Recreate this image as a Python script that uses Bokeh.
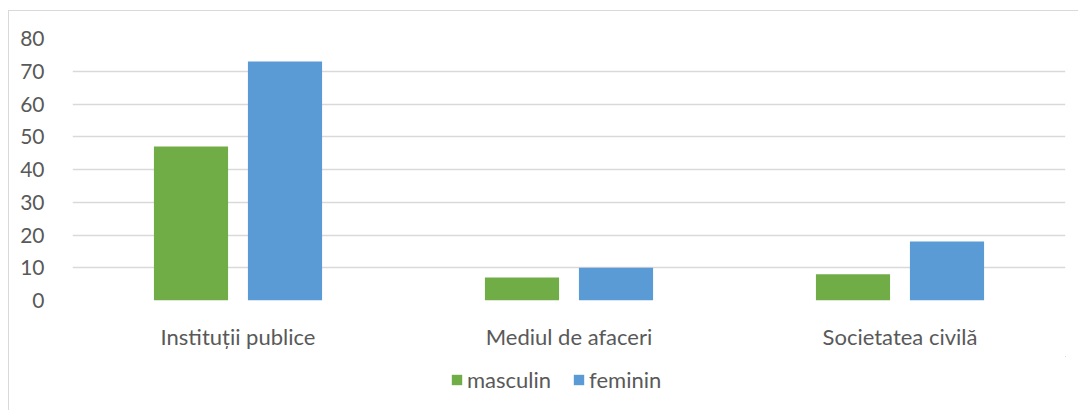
from bokeh.plotting import figure
from bokeh.layouts import column
from bokeh.models import ColumnDataSource, FactorRange, Legend, LegendItem, Range1d, FixedTicker
from bokeh.transform import dodge
from bokeh.embed import file_html
from bokeh.resources import INLINE

categories = ["Instituții publice", "Mediul de afaceri", "Societatea civilă"]
masculin = [47, 7, 8]
feminin = [73, 10, 18]
y_ticks = [0, 10, 20, 30, 40, 50, 60, 70, 80]
series_names = ["masculin", "feminin"]
series_colors = ["#70AD47", "#5B9BD5"]

src = ColumnDataSource(dict(cat=categories, masculin=masculin, feminin=feminin))

FONT = "Lato"
TXT = "#595959"

p = figure(x_range=FactorRange(*categories), y_range=Range1d(0, 80),
           width=1070, height=345, output_backend="svg", toolbar_location=None,
           min_border_left=63, min_border_right=14, min_border_top=27, min_border_bottom=56)
p.outline_line_color = None
p.x_range.range_padding = 0
p.x_range.factor_padding = 0

r1 = p.vbar(x=dodge("cat", -0.142, range=p.x_range), top="masculin", width=0.224, source=src,
            fill_color=series_colors[0], line_color=None)
r2 = p.vbar(x=dodge("cat", 0.142, range=p.x_range), top="feminin", width=0.224, source=src,
            fill_color=series_colors[1], line_color=None)

p.yaxis.ticker = FixedTicker(ticks=y_ticks)
p.yaxis.axis_line_color = None
p.yaxis.major_tick_line_color = None
p.yaxis.minor_tick_line_color = None
p.yaxis.major_label_standoff = 22
p.yaxis.major_label_text_font = FONT
p.yaxis.major_label_text_font_size = "21px"
p.yaxis.major_label_text_color = TXT

p.xaxis.axis_line_color = None
p.xaxis.major_tick_line_color = None
p.xaxis.minor_tick_line_color = None
p.xaxis.major_label_standoff = 16
p.xaxis.major_label_text_font = FONT
p.xaxis.major_label_text_font_size = "22px"
p.xaxis.major_label_text_color = TXT

p.xgrid.grid_line_color = None
p.ygrid.grid_line_color = "#d9d9d9"
p.ygrid.grid_line_width = 1.5

# legend strip (its bars have zero height and lie outside its ranges, so only the legend shows)
p2 = figure(width=1070, height=55, output_backend="svg", toolbar_location=None,
            x_range=Range1d(-2, -1), y_range=Range1d(-2, -1),
            min_border_left=63, min_border_right=14, min_border_top=0, min_border_bottom=0)
p2.axis.visible = False
p2.grid.visible = False
p2.outline_line_color = None
lr = [p2.vbar(x=n, bottom=n, top=n, width=0.1, source=src, fill_color=c, line_color=None)
      for n, c in zip(series_names, series_colors)]
legend = Legend(items=[LegendItem(label=n, renderers=[r]) for n, r in zip(series_names, lr)],
                orientation="horizontal", location=(378, 18),
                label_text_font=FONT, label_text_font_size="22px", label_text_color=TXT,
                glyph_width=13, glyph_height=13, spacing=21, label_standoff=4,
                border_line_color=None, background_fill_alpha=0, padding=0, margin=0)
p2.add_layout(legend, "center")

layout = column(p, p2, spacing=0)
layout.margin = (10, 0, 0, 8)
layout.styles = {"border": "1px solid #d9d9d9"}

open("out.html", "w").write(file_html(layout, INLINE))
